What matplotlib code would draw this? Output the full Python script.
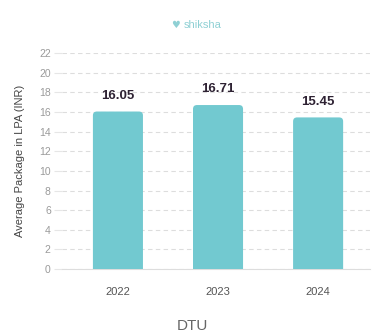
import matplotlib.pyplot as plt
from matplotlib.patches import FancyBboxPatch

years = ['2022', '2023', '2024']
packages = [16.05, 16.71, 15.45]
y_ticks = list(range(0, 23, 2))

plt.rcParams['font.family'] = ['Liberation Sans', 'DejaVu Sans']

fig = plt.figure(figsize=(3.82, 3.36), dpi=100)
ax = fig.add_axes([0.162, 0.199, 0.807, 0.643])

x = range(len(years))
bars = ax.bar(x, packages, width=0.5, color='#72c9d0')

# swap plain bars for ones with rounded tops
for b in bars:
    bx, bw, bh = b.get_x(), b.get_width(), b.get_height()
    b.set_visible(False)
    rb = FancyBboxPatch((bx, -1), bw, bh + 1,
                        boxstyle='round,pad=0,rounding_size=0.04',
                        mutation_aspect=10, facecolor='#72c9d0',
                        edgecolor='none', zorder=3)
    ax.add_patch(rb)

for i, v in enumerate(packages):
    ax.text(i, v + 1.0, f'{v:.2f}', ha='center', va='bottom',
            fontsize=9.5, fontweight='bold', color='#2e2233')

ax.set_xlim(-0.56, 2.52)
ax.set_ylim(0, 22)
ax.set_yticks(y_ticks)
ax.set_xticks(list(x))
ax.set_xticklabels(years)
ax.tick_params(axis='y', length=6, color='#e6e6e6', labelsize=7.5,
               labelcolor='#9a9a9a', pad=2)
ax.tick_params(axis='x', length=0, labelsize=8, labelcolor='#555555', pad=13)

ax.grid(axis='y', linestyle=(0, (4, 3)), color='#dddddd', linewidth=0.8, zorder=0)
ax.set_axisbelow(True)
for s in ['top', 'right', 'left']:
    ax.spines[s].set_visible(False)
ax.spines['bottom'].set_color('#dddddd')

ax.set_ylabel('Average Package in LPA (INR)', fontsize=8, color='#444444', labelpad=10)
ax.set_xlabel('DTU', fontsize=11, color='#666666')
ax.xaxis.set_label_coords(0.425, -0.232)

fig.text(0.53, 0.925, 'shiksha', ha='center', va='center', fontsize=8,
         color='#8fd0d4')
fig.text(0.46, 0.927, '♥', ha='center', va='center', fontsize=7,
         color='#8fd0d4', family=['DejaVu Sans'])

fig.savefig('out.png', dpi=100)
